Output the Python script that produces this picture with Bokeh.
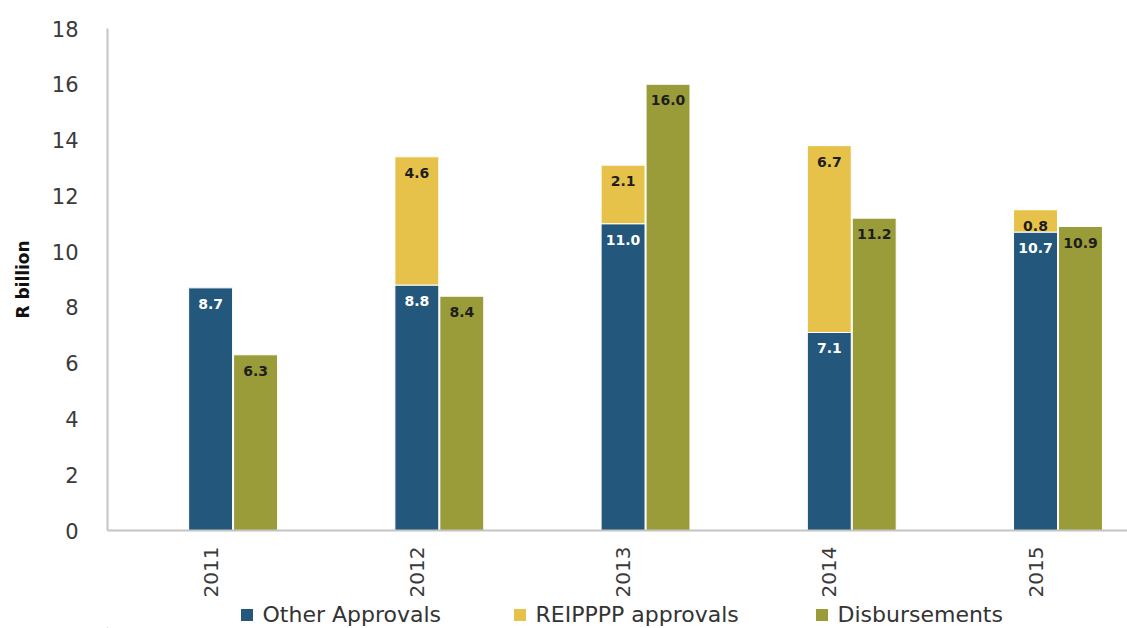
import math
from bokeh.plotting import figure
from bokeh.layouts import column
from bokeh.models import FixedTicker, Range1d, Legend, LegendItem
from bokeh.embed import file_html
from bokeh.resources import INLINE
from bokeh.core.properties import value

years = ["2011", "2012", "2013", "2014", "2015"]
other_approvals = [8.7, 8.8, 11.0, 7.1, 10.7]
reipppp_approvals = [0.0, 4.6, 2.1, 6.7, 0.8]
disbursements = [6.3, 8.4, 16.0, 11.2, 10.9]
y_ticks = [0, 2, 4, 6, 8, 10, 12, 14, 16, 18]
series_names = ["Other Approvals", "REIPPPP approvals", "Disbursements"]

BLUE = "#23577B"
YELLOW = "#E7C24A"
OLIVE = "#9A9C3A"
COLORS = [BLUE, YELLOW, OLIVE]
AXIS_GRAY = "#C4C4C4"
TEXT = "#3A3A3A"

W = 0.213
OFF = 0.218
idx = list(range(len(years)))

p = figure(width=1127, height=600, output_backend="svg", toolbar_location=None,
           x_range=Range1d(-0.5, 4.446), y_range=Range1d(0, 18),
           min_border_left=107, min_border_right=0, min_border_top=28, min_border_bottom=70)
p.outline_line_color = None
p.grid.visible = False
p.background_fill_color = "white"
p.border_fill_color = "white"

# bars
p.vbar(x=idx, bottom=0, top=other_approvals, width=W,
       fill_color=BLUE, line_color="white", line_width=1)
yx = [i for i, r in zip(idx, reipppp_approvals) if r > 0]
yb = [o for o, r in zip(other_approvals, reipppp_approvals) if r > 0]
yt = [o + r for o, r in zip(other_approvals, reipppp_approvals) if r > 0]
yv = [r for r in reipppp_approvals if r > 0]
p.vbar(x=yx, bottom=yb, top=yt, width=W,
       fill_color=YELLOW, line_color="white", line_width=1)
gx = [i + OFF for i in idx]
p.vbar(x=gx, bottom=0, top=disbursements, width=W,
       fill_color=OLIVE, line_color="white", line_width=1)

# value labels
lab_kw = dict(text_font=value("DejaVu Sans"), text_font_style="bold", text_font_size="14px",
              text_align="center", text_baseline="middle", y_offset=16)
p.text(x=idx, y=other_approvals, text=["%.1f" % v for v in other_approvals],
       text_color="white", **lab_kw)
p.text(x=yx, y=yt, text=["%.1f" % v for v in yv], text_color="#1E1E1E", **lab_kw)
p.text(x=gx, y=disbursements, text=["%.1f" % v for v in disbursements],
       text_color="#1E1E1E", **lab_kw)

# axes
for ax in (p.xaxis[0], p.yaxis[0]):
    ax.axis_line_color = AXIS_GRAY
    ax.axis_line_width = 2
    ax.major_tick_line_color = None
    ax.minor_tick_line_color = None
    ax.major_tick_in = 0
    ax.major_tick_out = 0
    ax.minor_tick_in = 0
    ax.minor_tick_out = 0
    ax.major_label_text_font = "DejaVu Sans"
    ax.major_label_text_font_size = "20px"
    ax.major_label_text_color = TEXT

p.yaxis.major_label_text_font_size = "21px"
p.yaxis.ticker = FixedTicker(ticks=y_ticks)
p.yaxis.major_label_standoff = 29
p.yaxis.axis_label = "R billion"
p.yaxis.axis_label_text_font = "DejaVu Sans"
p.yaxis.axis_label_text_font_style = "bold"
p.yaxis.axis_label_text_font_size = "17px"
p.yaxis.axis_label_text_color = "#111111"
p.yaxis.axis_label_standoff = 16

p.xaxis.ticker = FixedTicker(ticks=idx)
p.xaxis.major_label_overrides = {i: y for i, y in zip(idx, years)}
p.xaxis.major_label_orientation = math.pi / 2
p.xaxis.major_label_standoff = 16

# legend strip below the chart
lg = figure(width=1127, height=28, output_backend="svg", toolbar_location=None,
            x_range=Range1d(0, 1127), y_range=Range1d(0, 28), min_border=0,
            x_axis_location=None, y_axis_location=None)
lg.outline_line_color = None
lg.grid.visible = False
lg.background_fill_color = "white"
lg.border_fill_color = "white"

legend_left = [238.5, 511.5, 813.5]
for name, col, lx in zip(series_names, COLORS, legend_left):
    # off-screen swatch source for the legend key
    rend = lg.vbar(x=[-5000], bottom=[0], top=[1], width=1, fill_color=col, line_color=None)
    leg = Legend(items=[LegendItem(label=name, renderers=[rend])],
                 location=(lx - 107, 1), orientation="horizontal",
                 padding=0, margin=0, spacing=0, label_standoff=9,
                 glyph_width=15, glyph_height=15,
                 border_line_color=None, background_fill_alpha=0,
                 label_text_font="DejaVu Sans", label_text_font_size="22px",
                 label_text_color="#333333")
    lg.add_layout(leg, "center")

layout = column(p, lg, spacing=0)
open("out.html", "w").write(file_html(layout, INLINE))
